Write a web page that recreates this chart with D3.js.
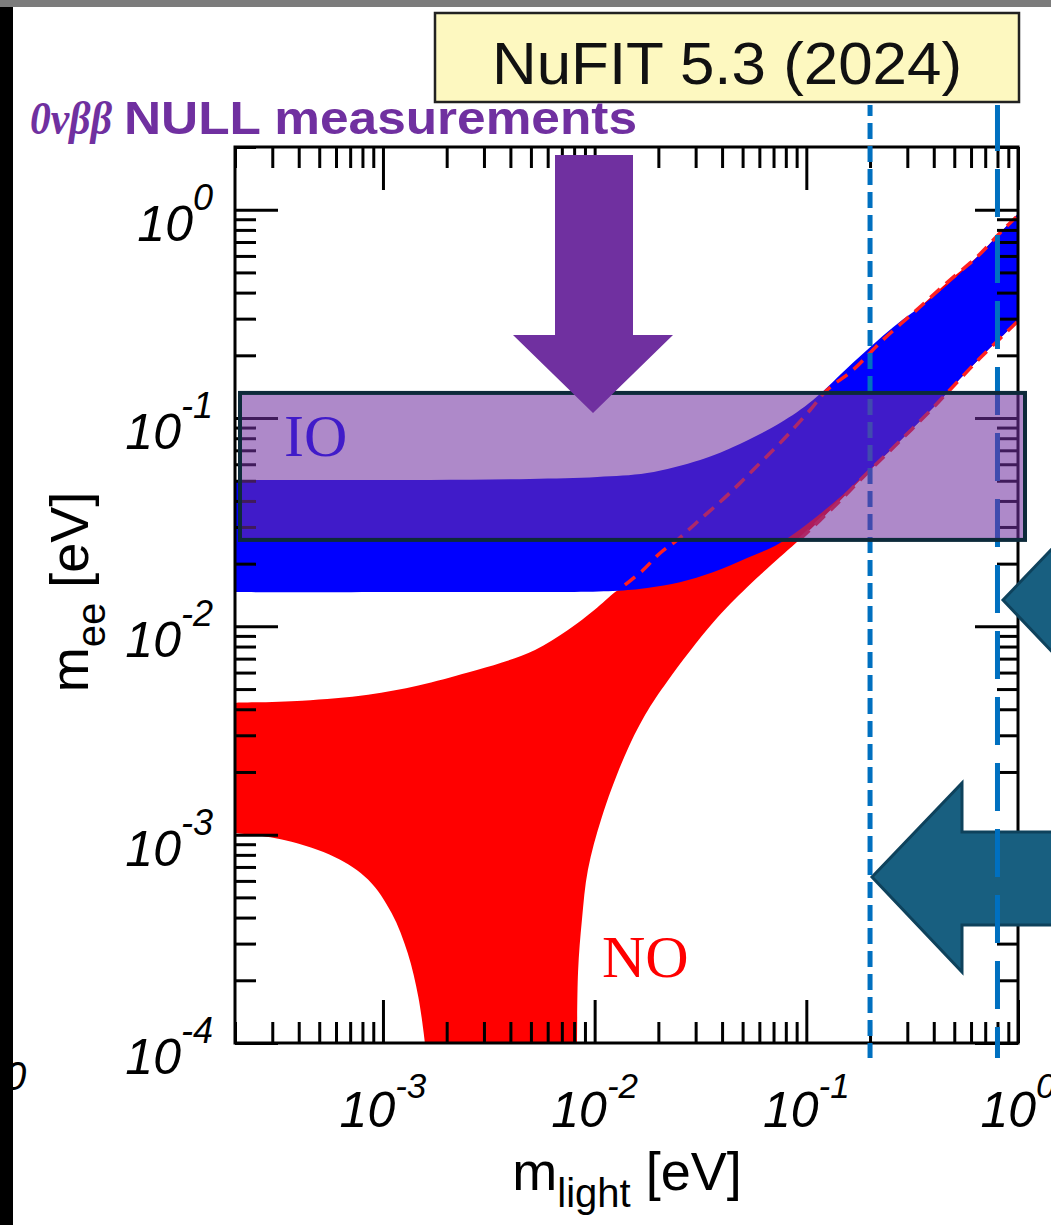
<!DOCTYPE html>
<html>
<head>
<meta charset="utf-8">
<script src="https://cdn.jsdelivr.net/npm/d3@7"></script>
<style>
  body { margin: 0; background: #fff; }
</style>
</head>
<body>
<div id="chart"></div>
<script>
// boundaries of the allowed m_ee regions, [m_light, m_ee] in eV
var noUpper = [[2e-4, 0.0043], [4.15e-4, 0.0044], [8.5e-4, 0.0047], [1.47e-3, 0.0052], [2.52e-3, 0.0060],
  [3.65e-3, 0.0067], [5.23e-3, 0.0077], [7.48e-3, 0.0096], [1.0e-2, 0.0120], [1.25e-2, 0.0146],
  [1.39e-2, 0.0158], [1.69e-2, 0.0186], [2.04e-2, 0.0225], [2.45e-2, 0.0259], [3.05e-2, 0.0317],
  [3.91e-2, 0.0395], [4.86e-2, 0.0487], [6.04e-2, 0.0608], [7.51e-2, 0.0758], [0.104, 0.109],
  [0.125, 0.136], [0.166, 0.170], [0.230, 0.237], [0.344, 0.341], [0.477, 0.460], [0.640, 0.593],
  [0.822, 0.773], [1.0, 0.94]]
// lower edge of normal ordering, either side of the cancellation dip
var noLowerLeft = [[2e-4, 0.00102], [3.45e-4, 0.00094], [5.94e-4, 0.00078], [8.5e-4, 0.00061],
  [1.10e-3, 0.00042], [1.31e-3, 0.00027], [1.47e-3, 0.000166], [1.58e-3, 1e-4]]
var noLowerRight = [[8.26e-3, 1e-4], [8.35e-3, 0.00022], [8.71e-3, 0.00039], [9.30e-3, 0.00068],
  [1.08e-2, 0.00121], [1.38e-2, 0.00236], [1.73e-2, 0.00375], [2.22e-2, 0.0055], [3.62e-2, 0.0104],
  [5.25e-2, 0.0154], [7.51e-2, 0.0215], [9.33e-2, 0.0262], [0.134, 0.0372], [0.194, 0.0545],
  [0.277, 0.0776], [0.397, 0.112], [0.462, 0.132], [0.662, 0.194], [1.0, 0.292]]
var ioUpper = [[2e-4, 0.0504], [5.6e-4, 0.0504], [1.67e-3, 0.0504], [4.95e-3, 0.0510], [1.03e-2, 0.0521],
  [1.77e-2, 0.0544], [3.15e-2, 0.0629], [4.51e-2, 0.0726], [7.51e-2, 0.0946], [0.1076, 0.122],
  [0.166, 0.184], [0.257, 0.273], [0.397, 0.381], [0.574, 0.531], [0.822, 0.773], [1.0, 0.96]]
var ioLower = [[2e-4, 0.0146], [1.67e-3, 0.0146], [1.22e-2, 0.0148], [1.77e-2, 0.0153], [2.53e-2, 0.0163],
  [3.62e-2, 0.0182], [5.25e-2, 0.0213], [7.51e-2, 0.0251], [0.134, 0.0391], [0.194, 0.0551],
  [0.277, 0.0776], [0.397, 0.112], [0.462, 0.132], [0.662, 0.194], [1.0, 0.292]]

var xMajor = [1e-3, 1e-2, 1e-1, 1]
var xExp = ["-3", "-2", "-1", "0"]
var yMajor = [1e-4, 1e-3, 1e-2, 1e-1, 1]
var yExp = ["-4", "-3", "-2", "-1", "0"]

var limitBand = [0.026, 0.132]   // 0vbb null result band on m_ee
var massLines = [0.2, 0.8]       // m_light reference lines

var width = 1051,
    height = 1225

var svg = d3.select("#chart")
            .append("svg")
            .attr("width", width)
            .attr("height", height)
            .style("display", "block")

var x = d3.scaleLog().domain([2e-4, 1]).range([235, 1018])
var y = d3.scaleLog().domain([1e-4, 2]).range([1043, 147])

svg.append("clipPath").attr("id", "plot")
   .append("rect")
   .attr("x", 235).attr("y", 147)
   .attr("width", 783).attr("height", 896)

var line = d3.line()
             .x(function(d) { return x(d[0]) })
             .y(function(d) { return y(d[1]) })
             .curve(d3.curveCatmullRom.alpha(0.5))

// join several edges into one closed outline
function outline(parts) {
  return parts.map(function(p, i) {
    var s = line(p)
    return i == 0 ? s : s.replace(/^M/, "L")
  }).join("") + "Z"
}
function rev(a) { return a.slice().reverse() }

var bands = svg.append("g").attr("clip-path", "url(#plot)")

bands.append("path")
     .attr("d", outline([noUpper, rev(noLowerRight), rev(noLowerLeft)]))
     .attr("fill", "#ff0000")

bands.append("path")
     .attr("d", outline([ioUpper, rev(ioLower)]))
     .attr("fill", "#0000ff")

// normal ordering edges seen through the inverted band
bands.append("path")
     .attr("d", line(noUpper.filter(function(d) { return d[0] >= 0.0139 })))
     .attr("fill", "none").attr("stroke", "#ff2020")
     .attr("stroke-width", 3.5).attr("stroke-dasharray", "13,8")
bands.append("path")
     .attr("d", line(noLowerRight.filter(function(d) { return d[0] >= 0.09 })))
     .attr("fill", "none").attr("stroke", "#ff2020")
     .attr("stroke-width", 3.5).attr("stroke-dasharray", "13,8")

// axes, ticks inward on all four sides
function isMajor(v) {
  var l = Math.log10(v)
  return Math.abs(l - Math.round(l)) < 1e-6
}
var xMinor = x.ticks().filter(function(v) { return !isMajor(v) })
var yMinor = y.ticks().filter(function(v) { return !isMajor(v) })

function drawAxis(axis, tx, ty) {
  var g = svg.append("g")
             .attr("transform", "translate(" + tx + "," + ty + ")")
             .call(axis)
  g.select(".domain").remove()
  g.selectAll("line").attr("stroke", "#000").attr("stroke-width", 3)
  g.selectAll("text").remove()
}
drawAxis(d3.axisBottom(x).tickValues(xMajor).tickSize(-43), 0, 1043)
drawAxis(d3.axisBottom(x).tickValues(xMinor).tickSize(-21), 0, 1043)
drawAxis(d3.axisTop(x).tickValues(xMajor).tickSize(-43), 0, 147)
drawAxis(d3.axisTop(x).tickValues(xMinor).tickSize(-21), 0, 147)
drawAxis(d3.axisLeft(y).tickValues(yMajor).tickSize(-43), 235, 0)
drawAxis(d3.axisLeft(y).tickValues(yMinor).tickSize(-21), 235, 0)
drawAxis(d3.axisRight(y).tickValues(yMajor).tickSize(-43), 1018, 0)
drawAxis(d3.axisRight(y).tickValues(yMinor).tickSize(-21), 1018, 0)

svg.append("rect")
   .attr("x", 235).attr("y", 147)
   .attr("width", 783).attr("height", 896)
   .attr("fill", "none").attr("stroke", "#000").attr("stroke-width", 3)

// tick labels 10^k
var xLab = svg.selectAll(".xlab")
              .data(xMajor)
              .enter().append("text")
              .attr("class", "xlab")
              .attr("x", function(d) { return x(d) })
              .attr("y", 1127)
              .attr("text-anchor", "middle")
              .attr("font-family", "Liberation Sans, Arial, sans-serif")
              .attr("font-style", "italic")
              .attr("font-size", "50px")
              .attr("fill", "#000")
xLab.append("tspan").text("10")
xLab.append("tspan").attr("dy", -29).attr("font-size", "35px")
    .text(function(d, i) { return xExp[i] })

var yLab = svg.selectAll(".ylab")
              .data(yMajor)
              .enter().append("text")
              .attr("class", "ylab")
              .attr("x", 213)
              .attr("y", function(d) { return y(d) + 31 })
              .attr("text-anchor", "end")
              .attr("font-family", "Liberation Sans, Arial, sans-serif")
              .attr("font-style", "italic")
              .attr("font-size", "50px")
              .attr("fill", "#000")
yLab.append("tspan").text("10")
yLab.append("tspan").attr("dy", -31).attr("font-size", "36px")
    .text(function(d, i) { return yExp[i] })

// the cut off label of the neighbouring panel
svg.append("text")
   .attr("x", 4).attr("y", 1090)
   .attr("font-family", "Liberation Sans, Arial, sans-serif")
   .attr("font-style", "italic").attr("font-size", "40px")
   .text("0")

// slide edges
svg.append("rect").attr("x", 0).attr("y", 0).attr("width", width).attr("height", 7).attr("fill", "#7c7c7c")
svg.append("rect").attr("x", 0).attr("y", 7).attr("width", 13).attr("height", height - 7).attr("fill", "#000")

// axis titles
var xt = svg.append("text")
            .attr("x", 627).attr("y", 1190)
            .attr("text-anchor", "middle")
            .attr("font-family", "Liberation Sans, Arial, sans-serif")
            .attr("font-size", "54px")
xt.append("tspan").text("m")
xt.append("tspan").attr("font-size", "40px").attr("dy", 17).text("light")
xt.append("tspan").attr("dy", -17).text(" [eV]")

var yt = svg.append("text")
            .attr("transform", "translate(88,592) rotate(-90)")
            .attr("text-anchor", "middle")
            .attr("font-family", "Liberation Sans, Arial, sans-serif")
            .attr("font-size", "54px")
yt.append("tspan").text("m")
yt.append("tspan").attr("font-size", "40px").attr("dy", 17).text("ee")
yt.append("tspan").attr("dy", -17).text(" [eV]")

// ordering labels
svg.append("text")
   .attr("x", 284).attr("y", 456)
   .attr("font-family", "Liberation Serif, Times New Roman, serif")
   .attr("font-size", "60px").attr("fill", "#0000ff")
   .text("IO")
svg.append("text")
   .attr("x", 602).attr("y", 977)
   .attr("font-family", "Liberation Serif, Times New Roman, serif")
   .attr("font-size", "60px").attr("fill", "#ff0000")
   .text("NO")

// teal arrows on the right
var arrow = function(tipX, tipY) {
  return [[tipX, tipY], [tipX + 90, tipY - 94], [tipX + 90, tipY - 45], [tipX + 200, tipY - 45],
          [tipX + 200, tipY + 48], [tipX + 90, tipY + 48], [tipX + 90, tipY + 95]]
}
svg.selectAll(".teal")
   .data([[1003, 600], [872, 877]])
   .enter().append("polygon")
   .attr("points", function(d) { return arrow(d[0], d[1]).join(" ") })
   .attr("fill", "#185f80")
   .attr("stroke", "#0e425c")
   .attr("stroke-width", 3)

// reference mass lines
svg.selectAll(".mline")
   .data(massLines)
   .enter().append("line")
   .attr("x1", function(d) { return x(d) })
   .attr("x2", function(d) { return x(d) })
   .attr("y1", 105).attr("y2", 1058)
   .attr("stroke", "#0070c0")
   .attr("stroke-width", 5)
   .attr("stroke-dasharray", function(d, i) { return i == 0 ? "16,7" : "48,18" })
   .attr("stroke-dashoffset", function(d, i) { return i == 0 ? 5 : 2 })

// 0vbb null band
svg.append("rect")
   .attr("x", 240).attr("y", y(limitBand[1]))
   .attr("width", 785).attr("height", y(limitBand[0]) - y(limitBand[1]))
   .attr("fill", "#7030a0").attr("fill-opacity", 0.57)
   .attr("stroke", "#0d2a3a").attr("stroke-width", 4)

// purple down arrow
svg.append("polygon")
   .attr("points", [[555, 155], [633, 155], [633, 335], [673, 335], [593, 413], [513, 335], [555, 335]].join(" "))
   .attr("fill", "#7030a0")

// title box
svg.append("rect")
   .attr("x", 435).attr("y", 13)
   .attr("width", 584).attr("height", 89)
   .attr("fill", "#fdf8c0")
   .attr("stroke", "#222").attr("stroke-width", 2.5)
svg.append("text")
   .attr("x", 727).attr("y", 84)
   .attr("text-anchor", "middle")
   .attr("font-family", "Liberation Sans, Arial, sans-serif")
   .attr("font-size", "60px")
   .attr("fill", "#111")
   .attr("textLength", 470)
   .attr("lengthAdjust", "spacingAndGlyphs")
   .text("NuFIT 5.3 (2024)")

svg.append("text")
   .attr("x", 30).attr("y", 134)
   .attr("font-family", "Liberation Serif, Times New Roman, serif")
   .attr("font-style", "italic")
   .attr("font-weight", "bold")
   .attr("font-size", "46px")
   .attr("fill", "#7030a0")
   .attr("textLength", 82)
   .attr("lengthAdjust", "spacingAndGlyphs")
   .text("0νββ")
svg.append("text")
   .attr("x", 124).attr("y", 134)
   .attr("font-family", "Liberation Sans, Arial, sans-serif")
   .attr("font-weight", "bold")
   .attr("font-size", "46px")
   .attr("fill", "#7030a0")
   .attr("textLength", 513)
   .attr("lengthAdjust", "spacingAndGlyphs")
   .text("NULL measurements")
</script>
</body>
</html>
